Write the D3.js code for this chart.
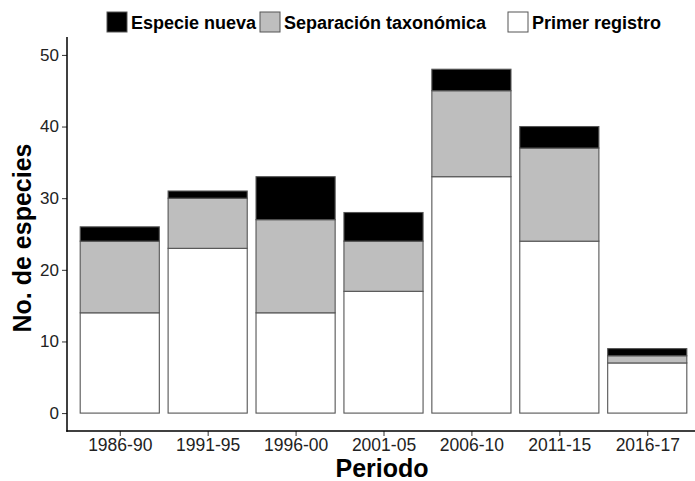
<!DOCTYPE html>
<html><head><meta charset="utf-8">
<script src="https://cdn.jsdelivr.net/npm/d3@7"></script>
<style>body{margin:0;background:#fff}svg{display:block;font-family:"Liberation Sans",Arial,sans-serif}</style>
</head><body><svg id="c" width="695" height="481"></svg>
<script>
const periods = ["1986-90","1991-95","1996-00","2001-05","2006-10","2011-15","2016-17"];
const primerRegistro = [14,23,14,17,33,24,7];
const separacion = [10,7,13,7,12,13,1];
const especieNueva = [2,1,6,4,3,3,1];
const seriesNames = ["Especie nueva","Separación taxonómica","Primer registro"];
const seriesColors = ["#000000","#bebebe","#ffffff"];
const yTicks = [0,10,20,30,40,50];

(function(){
const svg = d3.select("#c");
const mLeft = 67, mRight = 700, mTop = 37, mBottom = 431;

const n = periods.length;
const xLin = d3.scaleLinear().domain([0.4, n + 0.6]).range([mLeft, mRight]);
const barW = 0.9;
const y = d3.scaleLinear().domain([-2.5, 52.5]).range([mBottom, mTop]);

const rows = periods.map((p,i)=>({period:p, i, "Primer registro":primerRegistro[i], "Separación taxonómica":separacion[i], "Especie nueva":especieNueva[i]}));
const stacked = d3.stack().keys(["Primer registro","Separación taxonómica","Especie nueva"])(rows);

const g = svg.append("g");
stacked.forEach(layer=>{
  const col = seriesColors[seriesNames.indexOf(layer.key)];
  g.selectAll(null).data(layer).join("rect")
    .attr("x", d=>xLin(d.data.i + 1 - barW/2))
    .attr("width", d=>xLin(d.data.i + 1 + barW/2) - xLin(d.data.i + 1 - barW/2))
    .attr("y", d=>y(d[1]))
    .attr("height", d=>y(d[0]) - y(d[1]))
    .attr("fill", col)
    .attr("stroke", "#555")
    .attr("stroke-width", 1.1);
});

const yAxis = d3.axisLeft(y).tickValues(yTicks).tickSize(5).tickPadding(3);
const ya = svg.append("g").attr("transform",`translate(${mLeft},0)`).call(yAxis);
ya.select(".domain").remove();
ya.selectAll(".tick line").attr("stroke","#333");
ya.selectAll("text").attr("font-size",17).attr("fill","#222");

const xPt = d3.scalePoint().domain(periods).range([xLin(1), xLin(n)]);
const xAxis = d3.axisBottom(xPt).tickSize(5).tickPadding(3);
const xa = svg.append("g").attr("transform",`translate(0,${mBottom})`).call(xAxis);
xa.select(".domain").remove();
xa.selectAll(".tick line").attr("stroke","#333");
xa.selectAll("text").attr("font-size",17.5).attr("fill","#222");

svg.append("line").attr("x1",mLeft).attr("x2",mLeft).attr("y1",mTop).attr("y2",mBottom+0.75).attr("stroke","#000").attr("stroke-width",1.5);
svg.append("line").attr("x1",mLeft-0.75).attr("x2",695).attr("y1",mBottom).attr("y2",mBottom).attr("stroke","#000").attr("stroke-width",1.5);

svg.append("text").attr("x", 382).attr("y", 477).attr("text-anchor","middle")
  .attr("font-size",25).attr("font-weight","bold").text("Periodo");
svg.append("text").attr("transform","translate(31,238) rotate(-90)").attr("text-anchor","middle")
  .attr("font-size",25).attr("font-weight","bold").text("No. de especies");

const legX = [107, 260, 508];
const lg = svg.append("g");
seriesNames.forEach((s,k)=>{
  lg.append("rect").attr("x",legX[k]).attr("y",12).attr("width",20).attr("height",20)
    .attr("fill",seriesColors[k]).attr("stroke","#555").attr("stroke-width",1);
  lg.append("text").attr("x",legX[k]+24).attr("y",29).attr("font-size",18).attr("font-weight","bold").text(s);
});
})();
</script></body></html>
